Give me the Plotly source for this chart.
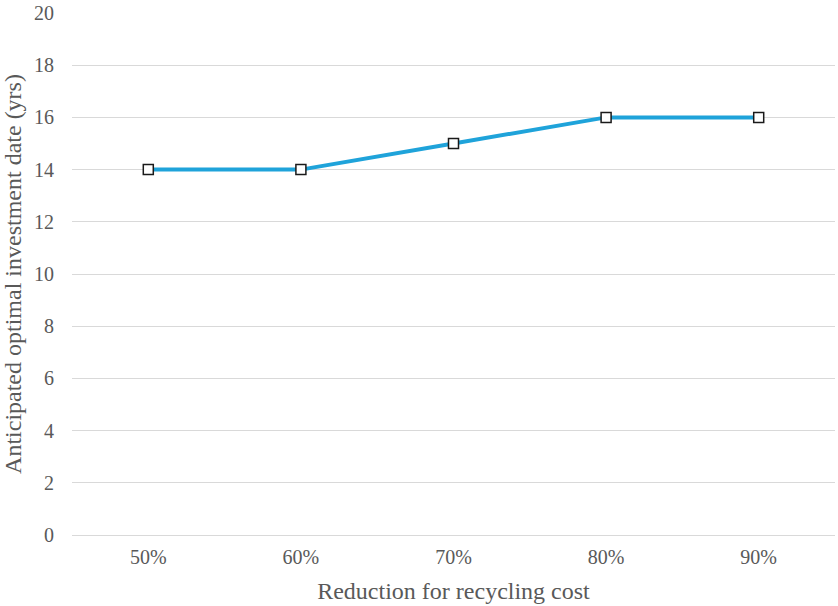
import plotly.graph_objects as go

# Reduction in recycling cost vs. anticipated optimal investment date
reductions = ["50%", "60%", "70%", "80%", "90%"]
invest_date_yrs = [14, 14, 15, 16, 16]

y_ticks = [0, 2, 4, 6, 8, 10, 12, 14, 16, 18, 20]

font_family = "Liberation Serif"
text_grey = "#595959"
grid_grey = "#D9D9D9"

fig = go.Figure()
fig.add_trace(go.Scatter(
    x=reductions,
    y=invest_date_yrs,
    mode="lines+markers",
    line=dict(color="#1FA3DA", width=4),
    marker=dict(symbol="square", size=10, color="white",
                line=dict(color="#1a1a1a", width=1.5)),
    showlegend=False,
))

fig.update_layout(
    width=838,
    height=606,
    margin=dict(l=72, r=3, t=13, b=71),
    paper_bgcolor="white",
    plot_bgcolor="white",
    font=dict(family=font_family, color=text_grey, size=20),
    xaxis=dict(
        type="category",
        range=[-0.5, 4.5],
        showgrid=False,
        zeroline=False,
        showline=False,
        ticks="",
        ticklabelstandoff=8,
        tickfont=dict(family=font_family, size=20, color=text_grey),
        title=dict(text="Reduction for recycling cost",
                   font=dict(family=font_family, size=24, color=text_grey),
                   standoff=15),
    ),
    yaxis=dict(
        range=[0, 20],
        tickvals=y_ticks,
        showgrid=True,
        gridcolor=grid_grey,
        gridwidth=1,
        zeroline=True,
        zerolinecolor=grid_grey,
        zerolinewidth=1,
        showline=False,
        ticks="",
        ticklabelstandoff=17,
        tickfont=dict(family=font_family, size=20, color=text_grey),
        title=dict(text="Anticipated optimal investment date (yrs)",
                   font=dict(family=font_family, size=24, color=text_grey),
                   standoff=5),
    ),
)

fig.write_html("out.html")
